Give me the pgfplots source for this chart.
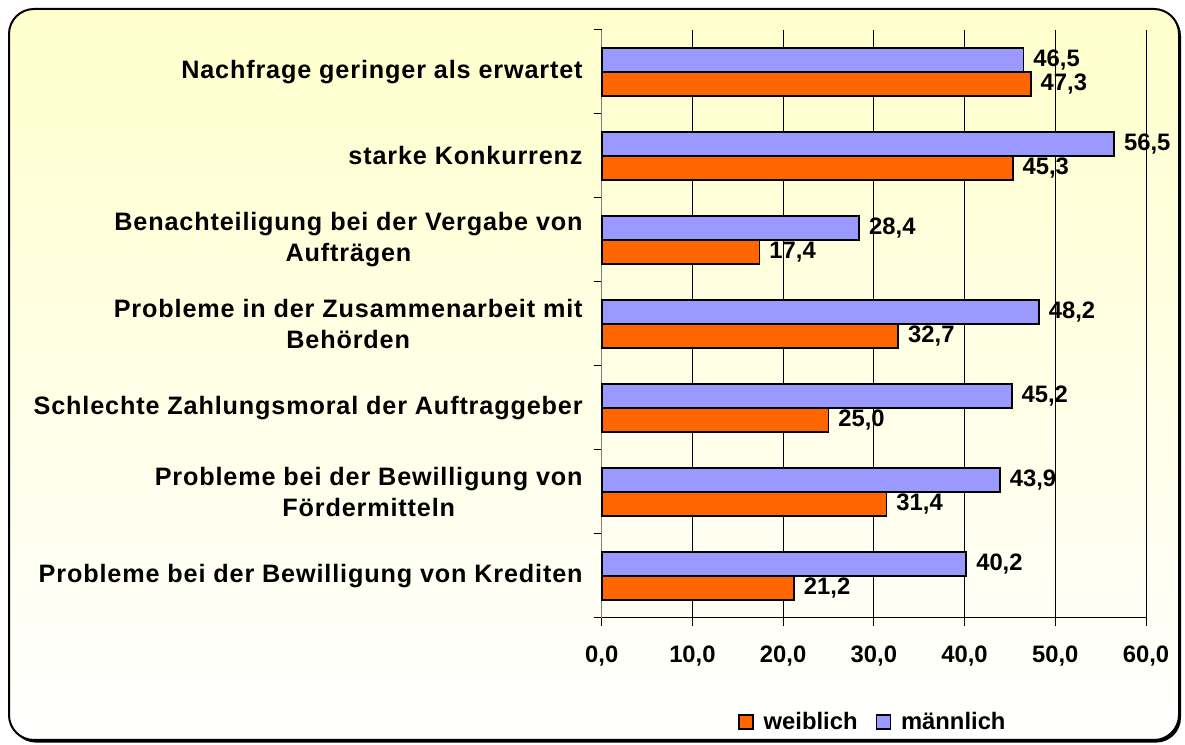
\documentclass[border=0pt]{standalone}
\usepackage{fontspec}
\setmainfont{Liberation Sans}
\newfontfamily\catfont[LetterSpace=3.4]{Liberation Sans}
\usepackage{pgfplots}
\pgfplotsset{compat=1.18}
\definecolor{orng}{HTML}{FF6600}
\definecolor{lav}{HTML}{9999FF}
\definecolor{bgy}{HTML}{FFFFCC}
\newcommand{\lblfont}{\bfseries\fontsize{11.9}{14}\selectfont}
\pgfplotsset{sqleg/.style={legend image code/.code={\draw[##1, line width=0.75pt] (0pt,-3.5pt) rectangle (7pt,3.5pt);}}}
\begin{document}
\begin{tikzpicture}
\path[use as bounding box] (0,0) rectangle (592.5pt,372.5pt);
\fill[black, rounded corners=12.5pt] (5.5pt,367pt) rectangle (590.5pt,1.2pt);
\path[draw=black, line width=1pt, rounded corners=12.5pt, top color=bgy, bottom color=white] (4.5pt,368pt) rectangle (589.5pt,2.5pt);
\begin{axis}[
  at={(300.85pt,63.65pt)}, anchor=south west,
  scale only axis, width=272.15pt, height=293.85pt,
  xbar, bar width=12pt, clip=false,
  xmin=0, xmax=60, ymin=-0.5, ymax=6.5,
  axis x line*=bottom, axis y line*=left,
  xtick={0,10,...,60}, minor xtick={0,10,...,60},
  ytick={0,...,6}, minor ytick={-0.5,0.5,...,6.5},
  major tick length=0pt, minor tick length=4pt, tick align=outside,
  tick style={black, line width=0.5pt},
  xmajorgrids, major grid style={black, line width=0.5pt},
  x axis line style={black, line width=0.5pt},
  y axis line style={gray, line width=0.75pt},
  xticklabel={\pgfmathprintnumber[fixed,fixed zerofill,precision=1,use comma,assume math mode=true]{\tick}},
  xticklabel style={font=\lblfont, yshift=-10.5pt},
  yticklabels={{Probleme bei der Bewilligung von Krediten},
    {Probleme bei der Bewilligung von\\Fördermitteln},
    {Schlechte Zahlungsmoral der Auftraggeber},
    {Probleme in der Zusammenarbeit mit\\Behörden},
    {Benachteiligung bei der Vergabe von\\Aufträgen},
    {starke Konkurrenz},
    {Nachfrage geringer als erwartet}},
  yticklabel style={font=\catfont\bfseries\fontsize{12.6}{15.5}\selectfont, align=center, inner sep=0pt, xshift=-9.35pt},
  point meta=x,
  nodes near coords={\pgfmathprintnumber[fixed,fixed zerofill,precision=1,use comma,assume math mode=true]{\pgfplotspointmeta}},
  nodes near coords style={font=\lblfont, anchor=west, inner sep=0pt, xshift=4.5pt},
  legend style={at={(0.5,-0.1775)}, anchor=center, draw=none, fill=none, legend columns=2, font=\lblfont,
    /tikz/every odd column/.append style={column sep=3pt},
    /tikz/every even column/.append style={column sep=7pt}},
]
\addplot[fill=orng, draw=black, line width=0.9pt, bar shift=-6pt, sqleg]
  coordinates {(21.2,0) (31.4,1) (25.0,2) (32.7,3) (17.4,4) (45.3,5) (47.3,6)};
\addplot[fill=lav, draw=black, line width=0.9pt, bar shift=6pt, sqleg]
  coordinates {(40.2,0) (43.9,1) (45.2,2) (48.2,3) (28.4,4) (56.5,5) (46.5,6)};
\legend{weiblich, männlich}
\end{axis}
\end{tikzpicture}
\end{document}
